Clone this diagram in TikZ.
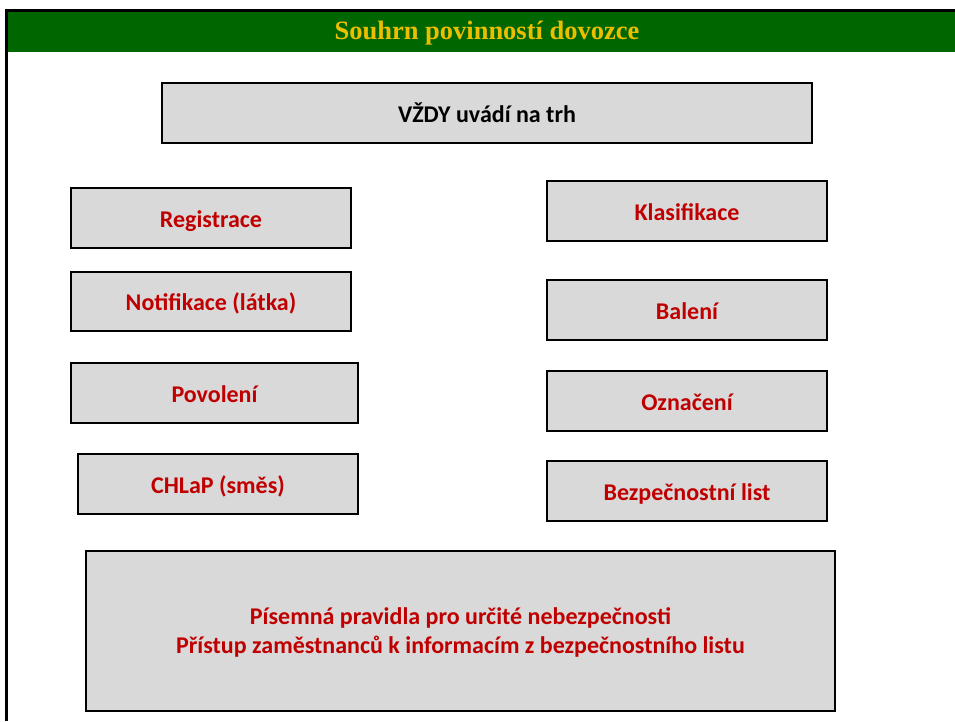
\documentclass[tikz,border=0pt]{standalone}
\usepackage{fontspec}
\setmainfont{Carlito}
\newfontfamily\titlefont{Liberation Serif}
\definecolor{hdrgreen}{RGB}{0,102,0}
\definecolor{hdrgold}{RGB}{235,190,0}
\definecolor{boxgray}{RGB}{217,217,217}
\definecolor{txtred}{RGB}{192,0,0}
\begin{document}
\begin{tikzpicture}[x=1pt,y=-1pt,
  gbox/.style={draw=black,line width=2pt,fill=boxgray,font=\bfseries\fontsize{24}{29}\selectfont,text=txtred,inner sep=0pt,align=center},
  onebox/.style={gbox,text height=18pt,text depth=0pt}]
\useasboundingbox (0,0) rectangle (955,721);
\fill[white] (0,0) rectangle (955,721);
% header
\fill[hdrgreen] (8,12) rectangle (955,52);
\draw[line width=3pt] (5,10.5) -- (955,10.5);
\draw[line width=3pt] (6.5,10) -- (6.5,721);
\node[font=\titlefont\bfseries\fontsize{26.5}{30}\selectfont,text=hdrgold] (title) at (487,33) {Souhrn povinností dovozce};
% boxes
\node[onebox,text=black,minimum width=650pt,minimum height=60pt] (trh) at (487,113) {VŽDY uvádí na trh};
\node[onebox,minimum width=280pt,minimum height=60pt] (reg) at (211,218) {Registrace};
\node[onebox,minimum width=280pt,minimum height=59pt] (notif) at (211,301.5) {Notifikace (látka)};
\node[onebox,minimum width=287pt,minimum height=60pt] (pov) at (214.5,393) {Povolení};
\node[onebox,minimum width=280pt,minimum height=60pt] (chlap) at (218,484) {CHLaP (směs)};
\node[onebox,minimum width=280pt,minimum height=60pt] (klas) at (687,211) {Klasifikace};
\node[onebox,minimum width=280pt,minimum height=60pt] (bal) at (687,310) {Balení};
\node[onebox,minimum width=280pt,minimum height=60pt] (ozn) at (687,401) {Označení};
\node[onebox,minimum width=280pt,minimum height=60pt] (bl) at (687,491) {Bezpečnostní list};
\node[gbox,text depth=0pt,minimum width=749pt,minimum height=160pt] (pis) at (460.5,631) {Písemná pravidla pro určité nebezpečnosti\\Přístup zaměstnanců k informacím z bezpečnostního listu};
\end{tikzpicture}
\end{document}
